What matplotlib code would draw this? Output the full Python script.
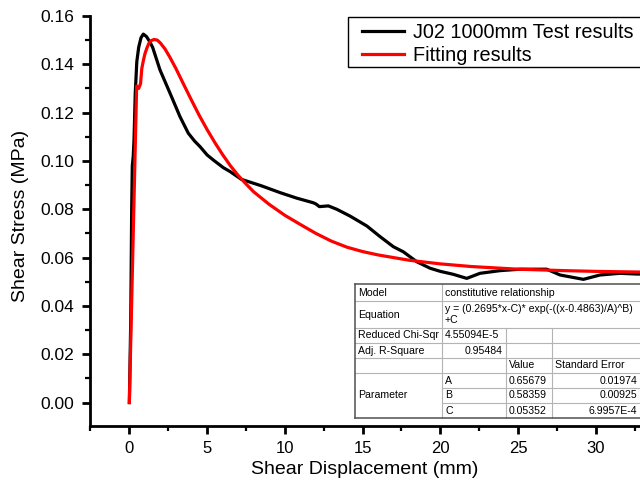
import matplotlib
matplotlib.use("Agg")
import matplotlib.pyplot as plt
from matplotlib.patches import Rectangle
from matplotlib.lines import Line2D

plt.rcParams['font.family'] = ['Liberation Sans', 'DejaVu Sans']

# ---- data ----
test_x = [0, 0.09, 0.15, 0.19, 0.25, 0.30, 0.38, 0.48, 0.6, 0.75, 0.9, 1.1, 1.3, 1.5,
          1.97, 2.62, 3.26, 3.79, 4.2, 4.55, 5.0, 5.4, 6.05, 6.48, 7.2, 8.5, 9.69, 10.77,
          11.83, 12.0, 12.22, 12.8, 13.34, 14.19, 15.27, 16.12, 16.98, 17.62, 18.48,
          19.34, 20.0, 20.82, 21.7, 22.55, 23.84, 25.13, 26.84, 27.7, 29.2, 30.27, 31.55,
          32.63, 33.5]
test_y = [0, 0.034, 0.08, 0.098, 0.102, 0.1087, 0.128, 0.1411, 0.147, 0.151, 0.1525,
          0.1515, 0.1495, 0.147, 0.1377, 0.128, 0.1183, 0.1115, 0.1082, 0.1059, 0.1025,
          0.1004, 0.0972, 0.0956, 0.0924, 0.0897, 0.0869, 0.0846, 0.0827, 0.0822, 0.0811,
          0.0814, 0.0800, 0.0772, 0.0731, 0.0687, 0.0645, 0.0624, 0.0583, 0.0556, 0.0543,
          0.0531, 0.0514, 0.0535, 0.0546, 0.0552, 0.0552, 0.0528, 0.0510, 0.0528, 0.0535,
          0.0532, 0.0532]

fit_x = [0, 0.47, 0.6, 0.72, 0.8, 0.9, 1.0, 1.12, 1.25, 1.4, 1.6, 1.8, 2.0, 2.3, 2.6, 3.0,
         3.5, 4.0, 4.5, 5.0, 5.5, 6.0, 6.5, 7.0, 7.5, 8.0, 9.0, 10.0, 11.0, 12.0, 13.0,
         14.0, 15.0, 16.0, 18.0, 20.0, 22.0, 25.0, 28.0, 30.0, 33.0]
fit_y = [0, 0.131, 0.130, 0.132, 0.1382, 0.1415, 0.1443, 0.1466, 0.1486, 0.1498, 0.1503,
         0.1500, 0.1488, 0.1463, 0.1430, 0.1382, 0.1316, 0.1251, 0.1188, 0.1130, 0.1076,
         0.1026, 0.0980, 0.0940, 0.0905, 0.0872, 0.0820, 0.0775, 0.0737, 0.0700, 0.0668,
         0.0643, 0.0625, 0.0611, 0.0589, 0.0574, 0.0563, 0.0552, 0.0546, 0.0543, 0.0540]

x_ticks = [0, 5, 10, 15, 20, 25, 30]
x_minor = [-2.5, 2.5, 7.5, 12.5, 17.5, 22.5, 27.5, 32.5]
y_ticks = [0.00, 0.02, 0.04, 0.06, 0.08, 0.10, 0.12, 0.14, 0.16]
y_tick_labels = ["0.00", "0.02", "0.04", "0.06", "0.08", "0.10", "0.12", "0.14", "0.16"]
y_minor = [0.01, 0.03, 0.05, 0.07, 0.09, 0.11, 0.13, 0.15]

legend_labels = ["J02 1000mm Test results", "Fitting results"]
x_label = "Shear Displacement (mm)"
y_label = "Shear Stress (MPa)"

table_rows = [
    ("Model", "constitutive relationship"),
    ("Equation", "y = (0.2695*x-C)* exp(-((x-0.4863)/A)^B)\n+C"),
    ("Reduced Chi-Sqr", "4.55094E-5"),
    ("Adj. R-Square", "0.95484"),
]
param_names = ["A", "B", "C"]
param_values = ["0.65679", "0.58359", "0.05352"]
param_errors = ["0.01974", "0.00925", "6.9957E-4"]

# ---- figure ----
W, H = 640, 488
fig = plt.figure(figsize=(W / 100, H / 100), dpi=100)
ax = fig.add_axes([90 / W, 1 - 426 / H, 1 - 90 / W, (426 - 16) / H])

ax.plot(test_x, test_y, color='black', lw=2.3, zorder=3, label=legend_labels[0],
        solid_joinstyle='round')
ax.plot(fit_x, fit_y, color='#ff0000', lw=2.3, zorder=4, label=legend_labels[1],
        solid_joinstyle='round')

ax.set_xlim(-2.53, 32.84)
ax.set_ylim(-0.0097, 0.16)
ax.set_xticks(x_ticks)
ax.set_xticks(x_minor, minor=True)
ax.set_yticks(y_ticks)
ax.set_yticklabels(y_tick_labels)
ax.set_yticks(y_minor, minor=True)

for s in ['top', 'right']:
    ax.spines[s].set_visible(False)
for s in ['left', 'bottom']:
    ax.spines[s].set_linewidth(2.0)

ax.tick_params(which='major', direction='out', length=6, width=2, labelsize=12, pad=5)
ax.tick_params(axis='y', which='major', labelsize=12.5, pad=5.5)
ax.tick_params(which='minor', direction='out', length=3.5, width=1.6)

ax.set_xlabel(x_label, fontsize=14)
ax.xaxis.set_label_coords(0.5, -(470 - 426) / 410)
ax.xaxis.label.set_va('center')
ax.set_ylabel(y_label, fontsize=14)
ax.yaxis.set_label_coords(-(90 - 20) / 550, (426 - 216) / 410)
ax.yaxis.label.set_va('center')

def fx(px):
    return px / W

def fy(py):
    return 1 - py / H

# legend with a separately drawn frame (it runs past the right edge)
frame = Rectangle((fx(348.3), fy(67.3)), fx(670) - fx(348.3), fy(17.3) - fy(67.3),
                  transform=fig.transFigure, facecolor='white', edgecolor='black',
                  lw=1.0, zorder=9, clip_on=False)
ax.add_patch(frame)
leg = ax.legend(loc='upper left', bbox_to_anchor=(fx(362), fy(23.0)),
                bbox_transform=fig.transFigure, borderaxespad=0, borderpad=0,
                frameon=False, fontsize=14.3, handlelength=2.1,
                handletextpad=0.45, labelspacing=0.2)
leg.set_zorder(10)
for h in leg.get_lines():
    h.set_linewidth(2.3)

# ---- fit statistics table (figure pixel coordinates) ----
c0, c1, c2, c3, cr = 355, 442, 506, 552, 646
rows = [284, 301, 328, 343, 358, 373, 388, 403, 418]

fig.add_artist(Rectangle((fx(c0), fy(rows[-1])), fx(cr) - fx(c0), fy(rows[0]) - fy(rows[-1]),
                         transform=fig.transFigure, facecolor='white', edgecolor='none',
                         zorder=20))

grid_c = '#b4b4b4'
def hline(y, x0, x1, color=grid_c, lw=0.8):
    fig.add_artist(Line2D([fx(x0), fx(x1)], [fy(y), fy(y)], transform=fig.transFigure,
                          color=color, lw=lw, zorder=21))

def vline(x, y0, y1, color=grid_c, lw=0.8):
    fig.add_artist(Line2D([fx(x), fx(x)], [fy(y0), fy(y1)], transform=fig.transFigure,
                          color=color, lw=lw, zorder=21))

for r in rows[1:6]:
    hline(r, c0, cr)
for r in rows[6:8]:
    hline(r, c1, cr)
vline(c1, rows[0], rows[-1])
vline(c2, rows[2], rows[-1])
vline(c3, rows[2], rows[-1])
hline(rows[0], c0, cr, color='#505050', lw=1.1)
hline(rows[-1], c0, cr, color='#505050', lw=1.1)
vline(c0, rows[0], rows[-1], color='#505050', lw=1.1)

tfs = 7.6
def cell_text(x, y, s, ha='left'):
    fig.text(fx(x), fy(y), s, ha=ha, va='center', fontsize=tfs, zorder=22,
             linespacing=1.05)

for i, (name, val) in enumerate(table_rows):
    ymid = (rows[i] + rows[i + 1]) / 2
    cell_text(c0 + 3, ymid, name)
    if name == "Adj. R-Square":
        cell_text(c2 - 3, ymid, val, ha='right')
    else:
        cell_text(c1 + 3, ymid, val)

hy = (rows[4] + rows[5]) / 2
cell_text(c2 + 3, hy, "Value")
cell_text(c3 + 3, hy, "Standard Error")
cell_text(c0 + 3, (rows[5] + rows[8]) / 2, "Parameter")
for k in range(3):
    ymid = (rows[5 + k] + rows[6 + k]) / 2
    cell_text(c1 + 3, ymid, param_names[k])
    cell_text(c2 + 3, ymid, param_values[k])
    cell_text(637, ymid, param_errors[k], ha='right')

fig.savefig("out.png", dpi=100)
